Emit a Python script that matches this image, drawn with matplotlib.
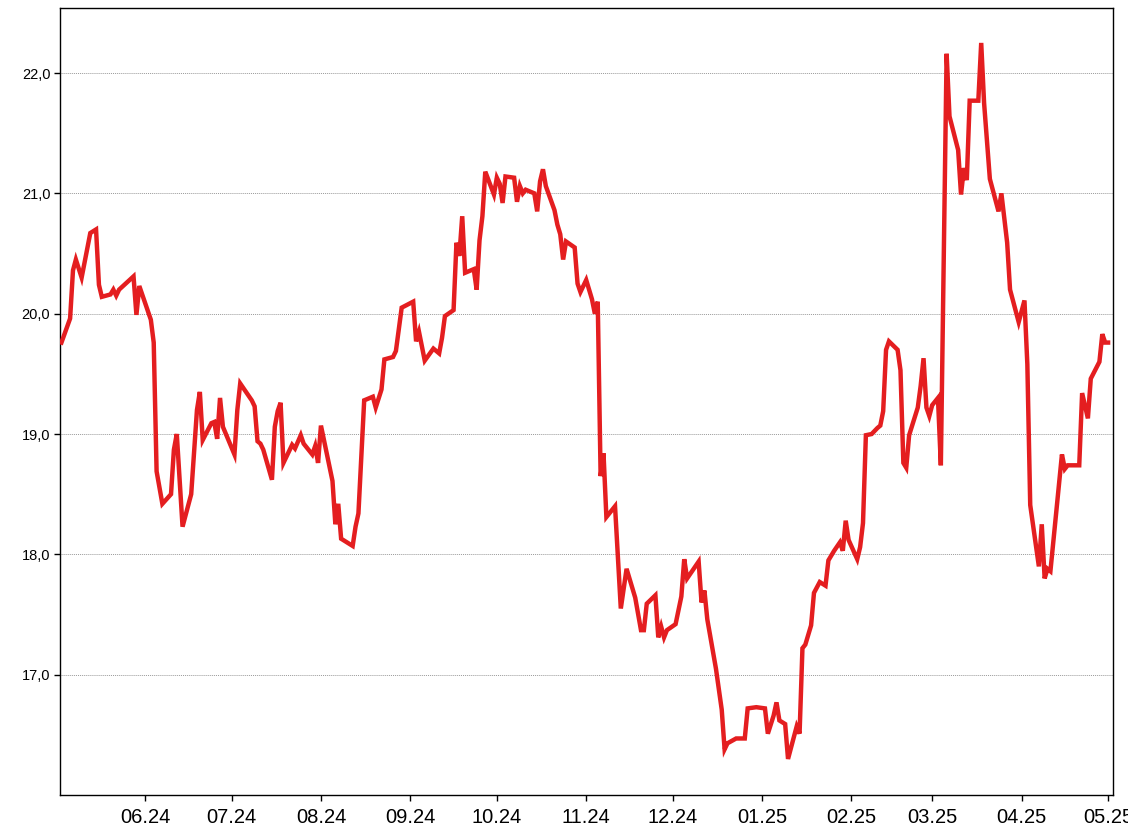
import matplotlib
matplotlib.use("Agg")
import matplotlib.pyplot as plt
import matplotlib.dates as mdates
from matplotlib.ticker import FuncFormatter
import pandas as pd

plt.rcParams['font.family'] = ['Liberation Sans', 'DejaVu Sans']

# Price series (date, value)
dates = [
    # May 2024
    "2024-05-03", "2024-05-06", "2024-05-07", "2024-05-08", "2024-05-10", "2024-05-13", "2024-05-15", "2024-05-16",
    "2024-05-17", "2024-05-20", "2024-05-21", "2024-05-22", "2024-05-23", "2024-05-28", "2024-05-29", "2024-05-30",
    # Jun 2024
    "2024-06-03", "2024-06-04", "2024-06-05", "2024-06-07", "2024-06-10", "2024-06-11", "2024-06-12", "2024-06-14",
    "2024-06-17", "2024-06-19", "2024-06-20", "2024-06-21", "2024-06-24", "2024-06-25", "2024-06-26", "2024-06-27",
    "2024-06-28",
    # Jul 2024
    "2024-07-02", "2024-07-03", "2024-07-04", "2024-07-08", "2024-07-09", "2024-07-10", "2024-07-11", "2024-07-12",
    "2024-07-15", "2024-07-16", "2024-07-17", "2024-07-18", "2024-07-19", "2024-07-22", "2024-07-23", "2024-07-25",
    "2024-07-26", "2024-07-29", "2024-07-30", "2024-07-31",
    # Aug 2024
    "2024-08-01", "2024-08-05", "2024-08-06", "2024-08-07", "2024-08-08", "2024-08-12", "2024-08-13", "2024-08-14",
    "2024-08-16", "2024-08-19", "2024-08-20", "2024-08-22", "2024-08-23", "2024-08-26", "2024-08-27", "2024-08-28",
    "2024-08-29",
    # Sep 2024
    "2024-09-02", "2024-09-03", "2024-09-04", "2024-09-06", "2024-09-09", "2024-09-11", "2024-09-12", "2024-09-13",
    "2024-09-16", "2024-09-17", "2024-09-18", "2024-09-19", "2024-09-20", "2024-09-23", "2024-09-24", "2024-09-25",
    "2024-09-26", "2024-09-27", "2024-09-30",
    # Oct 2024
    "2024-10-01", "2024-10-02", "2024-10-03", "2024-10-04", "2024-10-07", "2024-10-08", "2024-10-09", "2024-10-10",
    "2024-10-11", "2024-10-14", "2024-10-15", "2024-10-16", "2024-10-17", "2024-10-18", "2024-10-21", "2024-10-22",
    "2024-10-23", "2024-10-24", "2024-10-25", "2024-10-28", "2024-10-29", "2024-10-30",
    # Nov 2024
    "2024-11-01", "2024-11-03", "2024-11-04", "2024-11-05", "2024-11-06", "2024-11-07", "2024-11-08", "2024-11-11",
    "2024-11-13", "2024-11-15", "2024-11-18", "2024-11-20", "2024-11-21", "2024-11-22", "2024-11-25", "2024-11-26",
    "2024-11-27", "2024-11-28", "2024-11-29",
    # Dec 2024
    "2024-12-02", "2024-12-04", "2024-12-05", "2024-12-06", "2024-12-10", "2024-12-11", "2024-12-12", "2024-12-13",
    "2024-12-16", "2024-12-18", "2024-12-19", "2024-12-20", "2024-12-23", "2024-12-26", "2024-12-27", "2024-12-30",
    # Jan 2025
    "2025-01-02", "2025-01-03", "2025-01-05", "2025-01-06", "2025-01-07", "2025-01-09", "2025-01-10", "2025-01-13",
    "2025-01-14", "2025-01-15", "2025-01-16", "2025-01-18", "2025-01-19", "2025-01-21", "2025-01-23", "2025-01-24",
    "2025-01-26", "2025-01-28", "2025-01-29", "2025-01-30", "2025-01-31",
    # Feb 2025
    "2025-02-03", "2025-02-04", "2025-02-05", "2025-02-06", "2025-02-08", "2025-02-10", "2025-02-11", "2025-02-12",
    "2025-02-13", "2025-02-14", "2025-02-17", "2025-02-18", "2025-02-19", "2025-02-20", "2025-02-21", "2025-02-24",
    "2025-02-25", "2025-02-26", "2025-02-27", "2025-02-28",
    # Mar 2025
    "2025-03-01", "2025-03-03", "2025-03-04", "2025-03-06", "2025-03-07", "2025-03-10", "2025-03-11", "2025-03-12",
    "2025-03-13", "2025-03-14", "2025-03-17", "2025-03-18", "2025-03-19", "2025-03-21", "2025-03-24", "2025-03-25",
    "2025-03-27", "2025-03-28", "2025-03-31",
    # Apr / May 2025
    "2025-04-02", "2025-04-03", "2025-04-04", "2025-04-07", "2025-04-08", "2025-04-09", "2025-04-10", "2025-04-11",
    "2025-04-15", "2025-04-16", "2025-04-17", "2025-04-21", "2025-04-22", "2025-04-24", "2025-04-25", "2025-04-28",
    "2025-04-29", "2025-04-30", "2025-05-01",
]

prices = [
    # May 2024
    19.76, 19.96, 20.36, 20.45, 20.30, 20.67, 20.70, 20.24, 20.14, 20.16, 20.20, 20.15, 20.20, 20.31, 19.99, 20.23,
    # Jun 2024
    19.95, 19.76, 18.69, 18.42, 18.50, 18.87, 19.00, 18.23, 18.50, 19.20, 19.35, 18.95, 19.09, 19.10, 18.96, 19.30,
    19.06,
    # Jul 2024
    18.83, 19.20, 19.42, 19.28, 19.23, 18.94, 18.92, 18.87, 18.62, 19.06, 19.19, 19.26, 18.76, 18.91, 18.88, 18.99,
    18.92, 18.83, 18.90, 18.76,
    # Aug 2024
    19.07, 18.61, 18.25, 18.42, 18.13, 18.07, 18.23, 18.34, 19.28, 19.31, 19.22, 19.37, 19.62, 19.64, 19.69, 19.87,
    20.05,
    # Sep 2024
    20.10, 19.77, 19.85, 19.61, 19.71, 19.67, 19.80, 19.98, 20.03, 20.59, 20.48, 20.81, 20.34, 20.37, 20.20, 20.61,
    20.81, 21.18, 20.99,
    # Oct 2024
    21.13, 21.08, 20.92, 21.14, 21.13, 20.93, 21.06, 21.00, 21.03, 21.00, 20.85, 21.10, 21.20, 21.06, 20.86, 20.74,
    20.66, 20.45, 20.60, 20.55, 20.25, 20.18,
    # Nov 2024
    20.28, 20.12, 20.00, 20.10, 18.65, 18.84, 18.31, 18.40, 17.55, 17.88, 17.64, 17.37, 17.37, 17.59, 17.66, 17.31,
    17.40, 17.31, 17.37,
    # Dec 2024
    17.42, 17.65, 17.96, 17.80, 17.94, 17.60, 17.70, 17.46, 17.05, 16.71, 16.38, 16.43, 16.47, 16.47, 16.72, 16.73,
    # Jan 2025
    16.72, 16.51, 16.66, 16.77, 16.62, 16.59, 16.30, 16.57, 16.51, 17.22, 17.25, 17.41, 17.68, 17.77, 17.74, 17.95,
    18.03, 18.10, 18.03, 18.28, 18.12,
    # Feb 2025
    17.96, 18.06, 18.26, 18.99, 19.00, 19.05, 19.07, 19.19, 19.70, 19.77, 19.70, 19.53, 18.76, 18.72, 18.99, 19.22,
    19.40, 19.63, 19.22, 19.15,
    # Mar 2025
    19.24, 19.30, 18.74, 22.16, 21.64, 21.36, 20.99, 21.21, 21.11, 21.77, 21.77, 22.25, 21.75, 21.12, 20.85, 21.00,
    20.59, 20.20, 19.93,
    # Apr / May 2025
    20.11, 19.58, 18.41, 17.90, 18.25, 17.80, 17.88, 17.86, 18.83, 18.71, 18.74, 18.74, 19.34, 19.13, 19.46, 19.60,
    19.83, 19.76, 19.76,
]

y_ticks = [17.0, 18.0, 19.0, 20.0, 21.0, 22.0]

x = pd.to_datetime(dates)

fig = plt.figure(figsize=(11.28, 8.36), dpi=100)
ax = fig.add_axes([0.0532, 0.049, 0.9335, 0.9414])

ax.plot(x, prices, color='#e41e20', linewidth=3.2, solid_joinstyle='miter', zorder=3)

# axis ranges
ax.set_xlim(pd.Timestamp("2024-05-02 12:00"), pd.Timestamp("2025-05-02 17:00"))
ax.set_ylim(16.0, 22.54)

# ticks
ax.xaxis.set_major_locator(mdates.MonthLocator(bymonthday=1))
ax.xaxis.set_major_formatter(mdates.DateFormatter("%m.%y"))
ax.set_yticks(y_ticks)
ax.yaxis.set_major_formatter(FuncFormatter(lambda v, p: f"{v:.1f}".replace('.', ',')))
ax.tick_params(axis='x', direction='out', length=4, width=1, labelsize=14.5, pad=5, colors='black')
ax.tick_params(axis='y', direction='out', length=4, width=1, labelsize=10.5, pad=3, colors='black')

# grid
ax.grid(True, axis='y', color='#9a9a9a', linestyle=(0, (1, 1)), linewidth=0.7, zorder=1)
ax.grid(False, axis='x')

for s in ax.spines.values():
    s.set_color('black')
    s.set_linewidth(1.0)

fig.savefig("out.png", dpi=100)
